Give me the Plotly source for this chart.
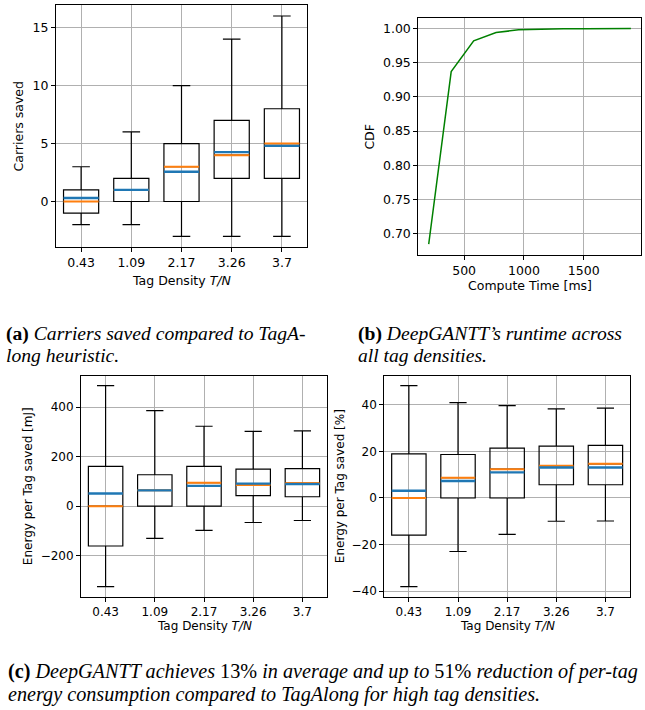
import plotly.graph_objects as go

# ---------------- data ----------------
density_labels = ["0.43", "1.09", "2.17", "3.26", "3.7"]
positions = [1, 2, 3, 4, 5]

carriers_q1 = [-1, 0, 0, 2, 2]
carriers_median = [0, 1, 3, 4, 5]
carriers_q3 = [1, 2, 5, 7, 8]
carriers_low = [-2, -2, -3, -3, -3]
carriers_high = [3, 6, 10, 14, 16]
carriers_mean = [0.3, 1.0, 2.57, 4.26, 4.8]
carriers_ticks = [0, 5, 10, 15]

compute_time_ms = [204, 392, 580, 767, 955, 1143, 1331, 1518, 1706, 1894]
cdf_values = [0.685, 0.937, 0.982, 0.994, 0.998, 0.999, 0.9995, 0.9997, 0.9999, 1.0]
time_ticks = [500, 1000, 1500]
cdf_ticks = [0.70, 0.75, 0.80, 0.85, 0.90, 0.95, 1.00]

energy_mj_q1 = [-161, 0, 0, 43, 38]
energy_mj_median = [0, 64, 95, 86, 93]
energy_mj_q3 = [161, 127, 161, 150, 152]
energy_mj_low = [-325, -130, -98, -66, -58]
energy_mj_high = [487, 386, 323, 302, 304]
energy_mj_mean = [51, 64, 82, 91, 89]
energy_mj_ticks = [-200, 0, 200, 400]
energy_mj_ticklabels = ["\u2212200", "0", "200", "400"]

energy_pct_q1 = [-16, 0, 0, 5.7, 5.7]
energy_pct_median = [0, 8.7, 12.4, 13.9, 14.7]
energy_pct_q3 = [19, 18.7, 21.4, 22.3, 22.6]
energy_pct_low = [-38.1, -23, -15.6, -10, -9.9]
energy_pct_high = [48.3, 41, 39.7, 38.3, 38.6]
energy_pct_mean = [3.1, 7.3, 11, 13.1, 13.1]
energy_pct_ticks = [-40, -20, 0, 20, 40]
energy_pct_ticklabels = ["\u221240", "\u221220", "0", "20", "40"]

# ---------------- layout helpers ----------------
W, H = 645, 710
BOX_W = 0.7
SANS = "DejaVu Sans"
SERIF = "Liberation Serif"
GRID = "#b0b0b0"


def px_x(v):
    return v / W


def px_y(v):
    return 1 - v / H


fig = go.Figure()


def add_box_panel(idx, q1, med, q3, low, high, mean):
    xa = "x" if idx == 1 else f"x{idx}"
    ya = "y" if idx == 1 else f"y{idx}"
    fig.add_trace(go.Box(
        x=positions, q1=q1, median=med, q3=q3, lowerfence=low, upperfence=high,
        width=BOX_W, whiskerwidth=0.5, boxpoints=False,
        line=dict(color="black", width=1.2), fillcolor="rgba(0,0,0,0)",
        hoverinfo="skip", showlegend=False, xaxis=xa, yaxis=ya))
    mx, my, ax, ay = [], [], [], []
    for p, m, a in zip(positions, med, mean):
        mx += [p - BOX_W / 2, p + BOX_W / 2, None]
        my += [m, m, None]
        ax += [p - BOX_W / 2, p + BOX_W / 2, None]
        ay += [a, a, None]
    fig.add_trace(go.Scatter(x=mx, y=my, mode="lines", line=dict(color="#ff7f0e", width=2),
                             showlegend=False, hoverinfo="skip", xaxis=xa, yaxis=ya))
    fig.add_trace(go.Scatter(x=ax, y=ay, mode="lines", line=dict(color="#1f77b4", width=2.4),
                             showlegend=False, hoverinfo="skip", xaxis=xa, yaxis=ya))


add_box_panel(1, carriers_q1, carriers_median, carriers_q3, carriers_low, carriers_high, carriers_mean)
fig.add_trace(go.Scatter(x=compute_time_ms, y=cdf_values, mode="lines",
                         line=dict(color="#008000", width=1.5), showlegend=False,
                         xaxis="x2", yaxis="y2"))
add_box_panel(3, energy_mj_q1, energy_mj_median, energy_mj_q3, energy_mj_low, energy_mj_high, energy_mj_mean)
add_box_panel(4, energy_pct_q1, energy_pct_median, energy_pct_q3, energy_pct_low, energy_pct_high, energy_pct_mean)

common = dict(showline=True, mirror=True, linecolor="black", linewidth=1,
              ticks="outside", ticklen=4, tickwidth=1, tickcolor="black",
              showgrid=True, gridcolor=GRID, gridwidth=1, zeroline=False)

panels = {
    1: dict(x=(56, 307), y=(5, 248), fs=12.5),
    2: dict(x=(418.3, 640.7), y=(17.7, 255.7), fs=12.5),
    3: dict(x=(81, 327), y=(376.7, 598.3), fs=12),
    4: dict(x=(384.3, 630), y=(376.7, 598.3), fs=12),
}

lay = {}
for i, p in panels.items():
    xk = "xaxis" if i == 1 else f"xaxis{i}"
    yk = "yaxis" if i == 1 else f"yaxis{i}"
    xn = "x" if i == 1 else f"x{i}"
    yn = "y" if i == 1 else f"y{i}"
    tf = dict(family=SANS, size=p["fs"], color="black")
    lay[xk] = dict(common, domain=[px_x(p["x"][0]), px_x(p["x"][1])], anchor=yn, tickfont=tf)
    lay[yk] = dict(common, domain=[px_y(p["y"][1]), px_y(p["y"][0])], anchor=xn, tickfont=tf)

for i in (1, 3, 4):
    xk = "xaxis" if i == 1 else f"xaxis{i}"
    lay[xk].update(range=[0.5, 5.5], tickmode="array", tickvals=positions, ticktext=density_labels)

lay["yaxis"].update(range=[-3.95, 16.95], tickmode="array", tickvals=carriers_ticks)
lay["xaxis2"].update(range=[117, 1976], tickmode="array", tickvals=time_ticks)
lay["yaxis2"].update(range=[0.669, 1.0158], tickmode="array", tickvals=cdf_ticks, tickformat=".2f")
lay["yaxis3"].update(range=[-365.6, 527.6], tickmode="array", tickvals=energy_mj_ticks,
                     ticktext=energy_mj_ticklabels)
lay["yaxis4"].update(range=[-42.4, 52.6], tickmode="array", tickvals=energy_pct_ticks,
                     ticktext=energy_pct_ticklabels)

ann = []


def label(text, x, y, size, rot=0, family=SANS, xanchor="center"):
    ann.append(dict(text=text, x=px_x(x), y=px_y(y), xref="paper", yref="paper",
                    showarrow=False, textangle=rot, xanchor=xanchor, yanchor="middle",
                    font=dict(family=family, size=size, color="black")))


tn = "Tag Density <i>T/N</i>"
label("Carriers saved", 18.3, 126.5, 12.5, -90)
label(tn, 181.5, 281, 12.5)
label("CDF", 369.3, 136.7, 12.5, -90)
label("Compute Time [ms]", 529.5, 286, 12.5)
label("Energy per Tag saved [mJ]", 28, 487.5, 12, -90)
label(tn, 204, 627.7, 12)
label("Energy per Tag saved [%]", 340, 487.5, 12, -90)
label(tn, 507, 627.7, 12)

CAP_AB = 19.6
CAP_C = 20.2
label("<b>(a)</b> <i>Carriers saved compared to TagA-</i>", 4, 335, CAP_AB, family=SERIF, xanchor="left")
label("<i>long heuristic.</i>", 4, 357, CAP_AB, family=SERIF, xanchor="left")
label("<b>(b)</b> <i>DeepGANTT\u2019s runtime across</i>", 356, 335, CAP_AB, family=SERIF, xanchor="left")
label("<i>all tag densities.</i>", 356, 357, CAP_AB, family=SERIF, xanchor="left")
label("<b>(c)</b> <i>DeepGANTT achieves</i> 13% <i>in average and up to</i> 51% <i>reduction of per-tag</i>",
      6, 673, CAP_C, family=SERIF, xanchor="left")
label("<i>energy consumption compared to TagAlong for high tag densities.</i>",
      6, 696, CAP_C, family=SERIF, xanchor="left")

fig.update_layout(width=W, height=H, margin=dict(l=0, r=0, t=0, b=0),
                  paper_bgcolor="white", plot_bgcolor="white",
                  font=dict(family=SANS, color="black"),
                  annotations=ann, **lay)

fig.write_html("out.html", config={"displayModeBar": False},
               post_script="document.body.style.margin='0';")
